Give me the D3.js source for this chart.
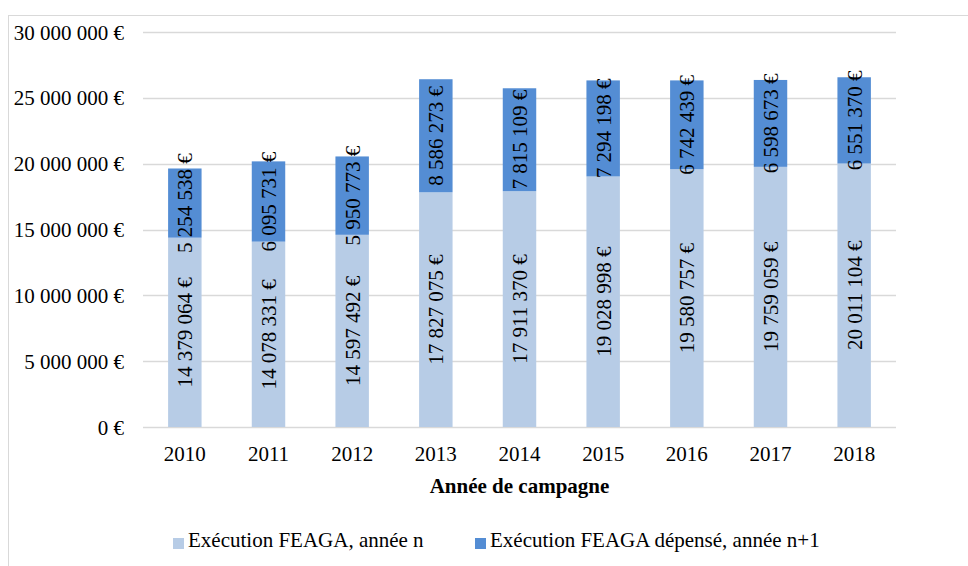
<!DOCTYPE html>
<html>
<head>
<meta charset="utf-8">
<script src="https://cdn.jsdelivr.net/npm/d3@7"></script>
<style>
  body { margin: 0; background: #fff; }
  text { font-family: "Liberation Serif", "Times New Roman", serif; fill: #000; }
</style>
</head>
<body>
<div id="chart"></div>
<script>
var years = ['2010', '2011', '2012', '2013', '2014', '2015', '2016', '2017', '2018'];
var execN = [14379064, 14078331, 14597492, 17827075, 17911370, 19028998, 19580757, 19759059, 20011104];
var execN1 = [5254538, 6095731, 5950773, 8586273, 7815109, 7294198, 6742439, 6598673, 6551370];
var seriesNames = ['Exécution FEAGA, année n', 'Exécution FEAGA dépensé, année n+1'];
var seriesColors = ['#b7cce6', '#548dd4'];
var yTicks = [0, 5000000, 10000000, 15000000, 20000000, 25000000, 30000000];
var xTitle = 'Année de campagne';

var width = 968, height = 566;
var plotLeft = 143, plotRight = 896, plotTop = 32, plotBottom = 427;
var fontSize = '21px';

var svg = d3.select('#chart').append('svg')
            .attr('width', width).attr('height', height);

// frame
svg.append('rect')
   .attr('x', 8.5).attr('y', 15.5)
   .attr('width', 1000).attr('height', 600)
   .attr('fill', 'none').attr('stroke', '#d9d9d9');

var x = d3.scaleBand().domain(years).range([plotLeft, plotRight])
          .paddingInner(0.6).paddingOuter(0.3);
var y = d3.scaleLinear().domain([0, 30000000]).range([plotBottom, plotTop]);

var fmt = function(v){
  return d3.format(',')(v).replace(/,/g, ' ') + ' €';
};

// gridlines
svg.append('g').selectAll('line').data(yTicks).enter().append('line')
   .attr('x1', plotLeft).attr('x2', plotRight)
   .attr('y1', function(d){ return Math.round(y(d)) + 0.5; })
   .attr('y2', function(d){ return Math.round(y(d)) + 0.5; })
   .attr('stroke', '#d9d9d9').attr('stroke-width', 1.3);

// y tick labels
svg.append('g').selectAll('text').data(yTicks).enter().append('text')
   .attr('x', 124).attr('y', function(d){ return y(d); })
   .attr('dy', '0.36em')
   .attr('text-anchor', 'end')
   .attr('font-size', fontSize)
   .text(fmt);

// stacked data
var rows = years.map(function(yr, i){
  return { year: yr, n: execN[i], n1: execN1[i] };
});
var stack = d3.stack().keys(['n', 'n1'])(rows);

var groups = svg.append('g').selectAll('g').data(stack).enter().append('g')
   .attr('fill', function(d, i){ return seriesColors[i]; });

groups.selectAll('rect').data(function(d){ return d; }).enter().append('rect')
   .attr('x', function(d){ return x(d.data.year); })
   .attr('width', x.bandwidth())
   .attr('y', function(d){ return y(d[1]); })
   .attr('height', function(d){ return y(d[0]) - y(d[1]); });

// value labels
groups.selectAll('text').data(function(d){ return d; }).enter().append('text')
   .attr('transform', function(d){
     var cx = x(d.data.year) + x.bandwidth() / 2;
     var cy = (y(d[0]) + y(d[1])) / 2;
     return 'translate(' + cx + ',' + cy + ') rotate(-90)';
   })
   .attr('text-anchor', 'middle')
   .attr('dy', '0.36em')
   .attr('font-size', fontSize)
   .text(function(d){ return fmt(d[1] - d[0]); });

// x labels
svg.append('g').selectAll('text').data(years).enter().append('text')
   .attr('x', function(d){ return x(d) + x.bandwidth() / 2; })
   .attr('y', 461)
   .attr('text-anchor', 'middle')
   .attr('font-size', fontSize)
   .text(function(d){ return d; });

svg.append('text')
   .attr('x', (plotLeft + plotRight) / 2).attr('y', 493)
   .attr('text-anchor', 'middle')
   .attr('font-size', fontSize)
   .attr('font-weight', 'bold')
   .text(xTitle);

// legend
var legendX = [173, 475];
var legend = svg.append('g').selectAll('g').data(seriesNames).enter().append('g')
   .attr('transform', function(d, i){ return 'translate(' + legendX[i] + ',538)'; });
legend.append('rect')
   .attr('width', 11).attr('height', 11)
   .attr('fill', function(d, i){ return seriesColors[i]; });
legend.append('text')
   .attr('x', 15).attr('y', 9)
   .attr('font-size', fontSize)
   .text(function(d){ return d; });
</script>
</body>
</html>
